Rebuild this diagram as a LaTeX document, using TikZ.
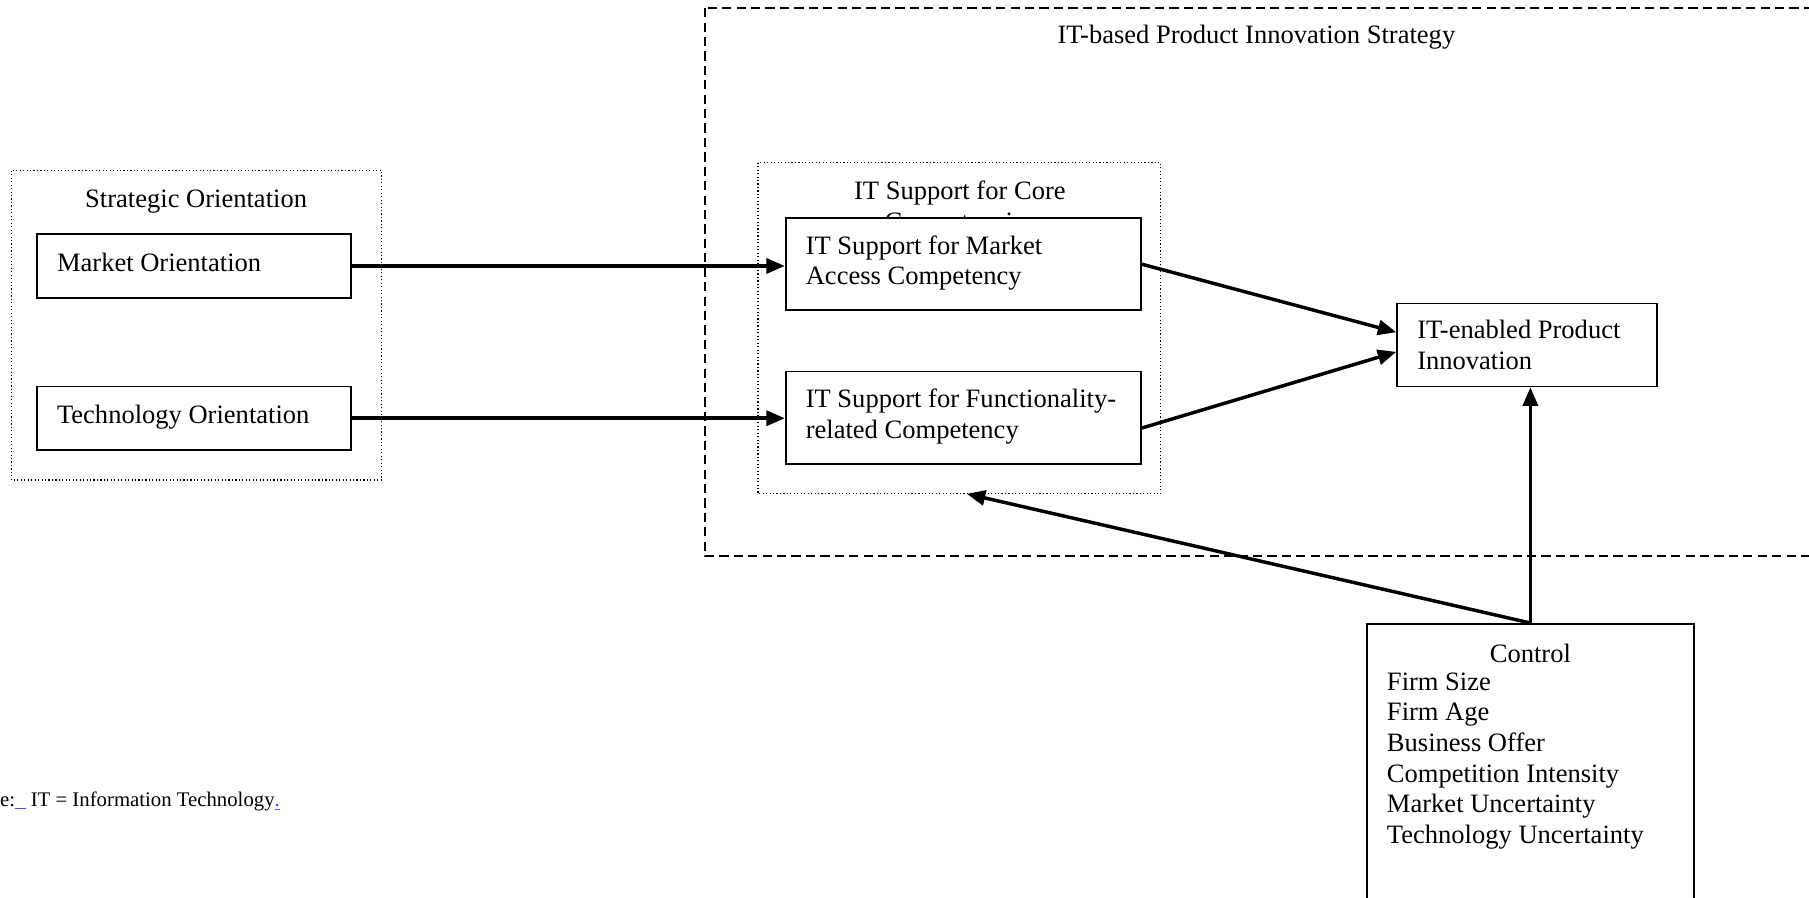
\documentclass[tikz,border=0pt]{standalone}
\usepackage{fontspec}
\setmainfont{Liberation Serif}
\usetikzlibrary{arrows.meta}
\tikzset{
  box/.style={draw, line width=1.5pt, fill=white, inner sep=0pt},
  label/.style={inner sep=0pt, align=left, font=\fontsize{23}{26.5}\selectfont},
  group/.style={draw, line width=1pt, dotted},
  conn/.style={line width=3pt, -{Triangle[length=16pt,width=13pt]}},
}
\begin{document}
\begin{tikzpicture}[x=1pt,y=1pt]
\useasboundingbox (0,0) rectangle (1568,-777.5);
\clip (0,0) rectangle (1568,-777.5);
% big dashed strategy frame
\draw[line width=1.5pt, dash pattern=on 8pt off 4.5pt] (611,-7) rectangle (1585,-482);
\node[label] (strattitle) at (1089,-32.5) {IT-based Product Innovation Strategy};
% strategic orientation group
\draw[group] (10,-148) rectangle (331,-416);
\node[label] (sotitle) at (170,-175) {Strategic Orientation};
% core competencies group
\draw[group] (657,-141) rectangle (1006,-428);
\coordinate (coresouth) at (838,-428);
\node[label, align=center] (coretitle) at (832,-180.5) {IT Support for Core\\Competencies};
% boxes
\node[box, minimum width=272pt, minimum height=55pt] (mo) at (168,-230.5) {};
\node[label, anchor=west] (mot) at ([xshift=18pt,yshift=3pt]mo.west) {Market Orientation};
\node[box, minimum width=272pt, minimum height=55pt] (to) at (168,-362.5) {};
\node[label, anchor=west] (tot) at ([xshift=18pt,yshift=1pt]to.west) {Technology Orientation};
\node[box, minimum width=308pt, minimum height=80pt] (ma) at (835,-229) {};
\node[label, anchor=west] (mat) at ([xshift=18pt,yshift=1pt]ma.west) {IT Support for Market\\Access Competency};
\node[box, minimum width=308pt, minimum height=80pt] (fu) at (835,-362) {};
\node[label, anchor=west] (fut) at ([xshift=18pt,yshift=1pt]fu.west) {IT Support for Functionality-\\related Competency};
\node[box, minimum width=225pt, minimum height=72pt] (inno) at (1323.5,-299) {};
\node[label, anchor=west] (innot) at ([xshift=18pt]inno.west) {IT-enabled Product\\Innovation};
% control box
\node[box, minimum width=283pt, minimum height=270pt, anchor=north] (ctrl) at (1326.5,-540) {};
\node[label] (ctrltitle) at (1326.5,-566) {Control};
\node[label, anchor=north west] (ctrllist) at (1202,-583) {Firm Size\\Firm Age\\Business Offer\\Competition Intensity\\Market Uncertainty\\Technology Uncertainty};
% note
\node[inner sep=0pt, anchor=west, font=\fontsize{18}{21}\selectfont] (note) at (0,-695) {e:\textcolor{blue!70}{\underline{\ \ }} IT = Information Technology\textcolor{blue!70}{\underline{.}}};
% connectors
\draw[conn] (mo.east) -- (mo.east -| ma.west);
\draw[conn] (to.east) -- (to.east -| fu.west);
\draw[conn] (ma.east) -- ([yshift=11pt]inno.west);
\draw[conn] ([yshift=-9pt]fu.east) -- ([yshift=-6pt]inno.west);
\draw[conn] (ctrl.north) -- (ctrl.north |- inno.south);
\draw[conn] (ctrl.north) -- (coresouth);
\end{tikzpicture}
\end{document}
